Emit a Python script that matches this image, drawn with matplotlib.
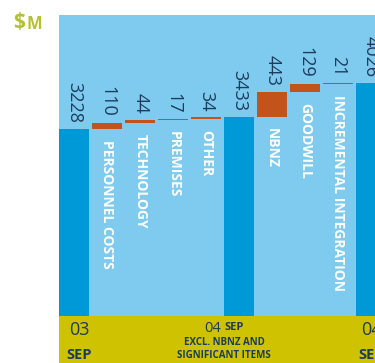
import numpy as np
import matplotlib
matplotlib.use("Agg")
import matplotlib.pyplot as plt

# Expense bridge, $m
labels = ["", "PERSONNEL COSTS", "TECHNOLOGY", "PREMISES", "OTHER", "",
          "NBNZ", "GOODWILL", "INCREMENTAL INTEGRATION", ""]
values = [3228, 110, 44, 17, 34, 3433, 443, 129, 21, 4026]
is_total = [True, False, False, False, False, True, False, False, False, True]

sky = "#7ecbef"
blue = "#0099d8"
orange = "#c1531b"
olive = "#cfc200"
navy = "#1c3c5c"
lime = "#b3c22e"

plt.rcParams["font.family"] = ["Open Sans", "DejaVu Sans"]

W, H = 375, 363
fig = plt.figure(figsize=(W / 100, H / 100), dpi=100)


def fx(px):
    return px / W


def fy(py):
    return 1 - py / H


# main panel
ax = fig.add_axes([fx(59), fy(316), 1 - fx(59), fy(15) - fy(316)])
ax.set_facecolor(sky)
for s in ax.spines.values():
    s.set_visible(False)
ax.set_xticks([])
ax.set_yticks([])

x = np.arange(len(values))
bottoms = []
run = 0
for v, t in zip(values, is_total):
    if t:
        bottoms.append(0)
        run = v
    else:
        bottoms.append(run)
        run += v
colors = [blue if t else orange for t in is_total]
ax.bar(x, values, bottom=bottoms, width=30 / 33, color=colors, linewidth=0)
ax.set_xlim(-15 / 33 - 0.5 / 33, (375 - 74) / 33)
ax.set_ylim(0, 5200)

for i, (v, b) in enumerate(zip(values, bottoms)):
    ax.annotate(str(v), (x[i], b + v), xytext=(0, 6), textcoords="offset pixels",
                rotation=270, ha="center", va="bottom", fontsize=13,
                color=navy)
    if labels[i]:
        ax.annotate(labels[i], (x[i], b), xytext=(0, -11),
                    textcoords="offset pixels", rotation=270, ha="center",
                    va="top", fontsize=10, color="white", fontweight="bold")

# period band
band = fig.add_axes([fx(59), 0, 1 - fx(59), fy(316)])
band.set_facecolor(olive)
for s in band.spines.values():
    s.set_visible(False)
band.set_xticks([])
band.set_yticks([])

fig.text(fx(79), fy(330), "03", ha="center", va="center", fontsize=13,
         color=navy)
fig.text(fx(79), fy(355), "SEP", ha="center", va="center", fontsize=10.5,
         color=navy, fontweight="bold")
fig.text(fx(221), fy(328), "04", ha="right", va="center", fontsize=10.5,
         color=navy)
fig.text(fx(224), fy(328), "SEP", ha="left", va="center", fontsize=8,
         color=navy, fontweight="bold")
fig.text(fx(224), fy(349), "EXCL. NBNZ AND\nSIGNIFICANT ITEMS", ha="center",
         va="center", fontsize=7, color=navy, fontweight="bold",
         linespacing=1.25)
fig.text(fx(371), fy(330), "04", ha="center", va="center", fontsize=13,
         color=navy)
fig.text(fx(371), fy(355), "SEP", ha="center", va="center", fontsize=10.5,
         color=navy, fontweight="bold")

# unit label
fig.text(fx(13), fy(23), "$", ha="left", va="center", fontsize=15,
         color=lime, fontweight="bold")
fig.text(fx(26), fy(24), "M", ha="left", va="center", fontsize=12,
         color=lime, fontweight="bold")

fig.savefig("out.png", dpi=100)
